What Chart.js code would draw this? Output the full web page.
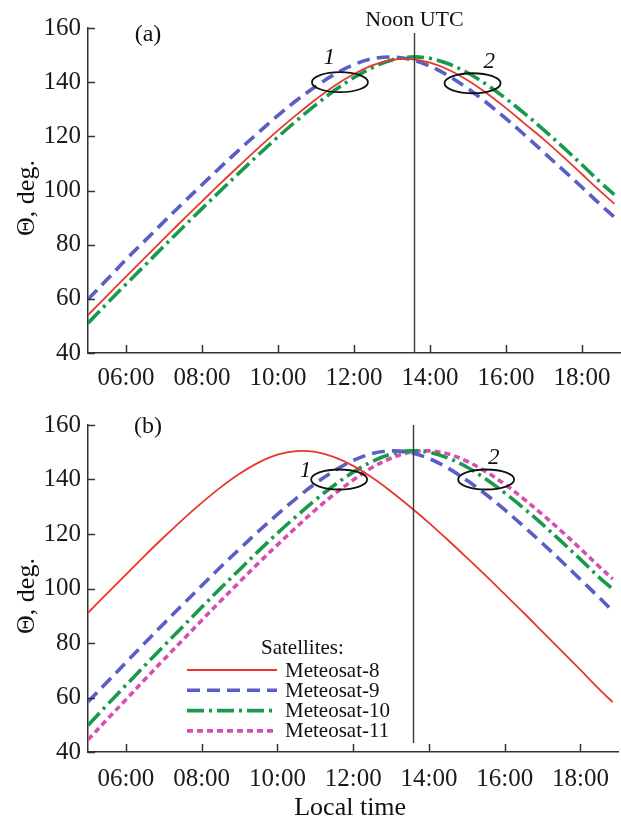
<!DOCTYPE html>
<html><head><meta charset="utf-8">
<script src="https://cdn.jsdelivr.net/npm/chart.js@4.4.1/dist/chart.umd.min.js"></script>
<style>
html,body{margin:0;padding:0;background:#fff;width:621px;height:825px;overflow:hidden}
.wrap{position:absolute;left:0;width:621px}
#w1{top:0;height:400px}
#w2{top:395px;height:430px}
canvas{display:block}
</style></head><body>
<div class="wrap" id="w1"><canvas id="c1" width="621" height="400"></canvas></div>
<div class="wrap" id="w2"><canvas id="c2" width="621" height="430"></canvas></div>
<script>
// ---- data ----
const times = [5,5.5,6,6.5,7,7.5,8,8.5,9,9.5,10,10.5,11,11.5,12,12.5,13,13.5,14,14.5,15,15.5,16,16.5,17,17.5,18,18.5,18.85];
const xTickValues = [6,8,10,12,14,16,18];
const xTickLabels = ['06:00','08:00','10:00','12:00','14:00','16:00','18:00'];
const yTickValues = [40,60,80,100,120,140,160];
const satellites = ['Meteosat-8','Meteosat-9','Meteosat-10','Meteosat-11'];
const noonUTC = 13.57;

// panel (a)
const a_m8  = [54.0,61.1,68.2,75.2,82.2,89.2,96.0,102.8,109.4,115.9,122.2,128.1,133.7,138.8,143.0,146.3,148.2,148.5,147.2,144.5,140.6,135.8,130.4,124.6,118.8,112.5,106.0,99.5,95.1];
const a_m9  = [59.8,67.1,74.5,81.5,88.5,95.4,102.1,108.8,115.3,121.6,127.7,133.4,138.5,143.0,146.5,148.7,149.3,148.3,145.9,142.2,137.6,132.3,126.5,120.4,114.0,107.6,101.2,94.6,90.2];
const a_m10 = [51.0,58.3,65.4,72.4,79.5,86.4,93.3,100.1,106.8,113.4,119.8,125.9,131.7,137.1,141.7,145.5,148.2,149.3,148.8,146.7,143.4,139.0,133.9,128.3,122.3,116.0,109.5,102.8,98.5];
// panel (b)
const b_m8  = [91.1,98.1,105.1,112.1,118.8,125.3,131.4,137.1,142.1,146.2,149.1,150.4,150.1,148.2,145.0,140.7,135.6,130.0,124.1,117.8,111.3,104.7,97.9,91.1,84.1,77.1,70.1,63.0,58.3];
const b_m9  = [58.4,65.6,72.8,80.0,87.1,94.1,101.0,107.9,114.5,121.0,127.2,133.1,138.5,143.2,147.0,149.5,150.5,149.9,147.7,144.2,139.7,134.6,128.9,122.8,116.5,110.0,103.3,96.6,91.7];
const b_m10 = [49.8,57.2,64.5,71.7,78.9,86.0,93.1,100.1,106.9,113.7,120.3,126.5,132.5,137.9,142.7,146.6,149.3,150.5,150.0,147.9,144.6,140.2,135.1,129.5,123.5,117.2,110.7,104.0,99.8];
const b_m11 = [44.5,51.9,59.2,66.6,73.9,81.1,88.3,95.4,102.4,109.3,116.0,122.5,128.8,134.6,139.8,144.4,147.8,150.0,150.5,149.4,146.7,142.9,138.3,132.9,127.1,121.0,114.6,108.0,103.5];

// ---- styles ----
const styles = [
  {color:'#e8382b', width:1.8, dash:[]},
  {color:'#5a5ec6', width:3.6, dash:[13,7]},
  {color:'#189a4c', width:3.6, dash:[17,5,3,5]},
  {color:'#d64fb0', width:3.6, dash:[6,4]}
];
const SERIF = '"Liberation Serif", "Times New Roman", serif';
Chart.defaults.font.family = SERIF;

function ds(i, vals){
  const s = styles[i];
  return {label:satellites[i], data:times.map((t,k)=>({x:t,y:vals[k]})),
    borderColor:s.color, borderWidth:s.width, borderDash:s.dash, borderCapStyle:'butt',
    pointRadius:0, fill:false, tension:0.35};
}

function line(ctx,x1,y1,x2,y2){ctx.beginPath();ctx.moveTo(x1,y1);ctx.lineTo(x2,y2);ctx.stroke();}

const decor = {
  id:'decor',
  afterDatasetsDraw(chart, args, o){
    const ctx = chart.ctx, xs = chart.scales.x, ys = chart.scales.y, ca = chart.chartArea;
    ctx.save();
    ctx.strokeStyle = '#333'; ctx.lineWidth = 1.5;
    xTickValues.forEach(v=>{const px = Math.round(xs.getPixelForValue(v))+0.5; line(ctx,px,ca.bottom,px,ca.bottom-8);});
    yTickValues.forEach(v=>{const py = Math.round(ys.getPixelForValue(v))+0.5; line(ctx,ca.left,py,ca.left+7,py);});
    // noon line
    const nx = Math.round(xs.getPixelForValue(noonUTC))+0.5;
    ctx.strokeStyle = '#3a3a3a'; ctx.lineWidth = 1.4;
    line(ctx,nx,o.noonTop,nx,o.noonBottom);
    // ellipses
    ctx.strokeStyle = '#111'; ctx.lineWidth = 1.8;
    o.ellipses.forEach(e=>{
      ctx.beginPath();
      ctx.ellipse(xs.getPixelForValue(e[0]), ys.getPixelForValue(e[1]), 28, 10, 0, 0, Math.PI*2);
      ctx.stroke();
    });
    ctx.fillStyle = '#111';
    ctx.font = 'italic 23px ' + SERIF;
    ctx.textAlign = 'center'; ctx.textBaseline = 'middle';
    o.marks.forEach(m=>{ ctx.fillText(m[2], xs.getPixelForValue(m[0]), ys.getPixelForValue(m[1])); });
    // panel letter
    ctx.font = '24px ' + SERIF;
    ctx.fillText(o.panel, 148, o.panelY);
    // noon text
    if (o.noonText){ ctx.font = '22px ' + SERIF; ctx.fillText('Noon UTC', nx, 20); }
    // y title
    ctx.save();
    ctx.translate(27, o.yTitleY); ctx.rotate(-Math.PI/2);
    ctx.font = '26px ' + SERIF; ctx.fillText('\u0398, deg.', 0, 0);
    ctx.restore();
    if (o.xTitle){ ctx.font = '26px ' + SERIF; ctx.fillText('Local time', (ca.left+ca.right)/2 - 3, o.xTitleY); }
    if (o.legend){
      ctx.textAlign = 'left';
      ctx.font = '21px ' + SERIF;
      ctx.fillText('Satellites:', 261, o.legendY);
      chart.data.datasets.forEach((d,i)=>{
        const yy = o.legendY + 22 + i*20.3;
        ctx.save();
        ctx.strokeStyle = d.borderColor; ctx.lineWidth = d.borderWidth; ctx.setLineDash(d.borderDash);
        line(ctx,187,yy,277,yy);
        ctx.restore();
        ctx.fillText(d.label, 285, yy+1);
      });
    }
    ctx.restore();
  }
};

function makeChart(id, datasets, o){
  return new Chart(document.getElementById(id), {
    type:'line',
    data:{datasets},
    options:{
      responsive:false, animation:false, devicePixelRatio:1,
      layout:{padding:{top:o.top, right:1, left:0, bottom:0}},
      plugins:{legend:{display:false}, tooltip:{enabled:false}, decor:o},
      scales:{
        x:{type:'linear', min:5, max:19,
          afterBuildTicks:s=>{s.ticks = xTickValues.map(v=>({value:v}));},
          ticks:{callback:v=>xTickLabels[xTickValues.indexOf(v)], font:{size:25}, color:'#1a1a1a', padding:o.xPad, maxRotation:0, autoSkip:false},
          grid:{display:false, drawTicks:false},
          border:{display:true, color:'#333', width:1.5},
          afterFit:s=>{s.height = o.xh;}},
        y:{type:'linear', min:40, max:160,
          afterBuildTicks:s=>{s.ticks = yTickValues.map(v=>({value:v}));},
          ticks:{font:{size:25}, color:'#1a1a1a', padding:7},
          grid:{display:false, drawTicks:false},
          border:{display:true, color:'#333', width:1.5},
          afterFit:s=>{s.width = 88;}}
      }
    },
    plugins:[decor]
  });
}

makeChart('c1', [ds(0,a_m8), ds(1,a_m9), ds(2,a_m10)], {
  top:28, xh:47, xPad:10, panel:'(a)', panelY:35, noonText:true, noonTop:33, noonBottom:353,
  ellipses:[[11.63,140],[15.12,139.6]], marks:[[11.35,149.1,'1'],[15.56,147.3,'2']],
  yTitleY:198, xTitle:false, legend:false
});
makeChart('c2', [ds(0,b_m8), ds(1,b_m9), ds(2,b_m10), ds(3,b_m11)], {
  top:30, xh:73, xPad:12, panel:'(b)', panelY:32, noonText:false, noonTop:30, noonBottom:348,
  ellipses:[[11.63,140],[15.51,140]], marks:[[10.74,143,'1'],[15.71,147.9,'2']],
  yTitleY:201, xTitle:true, xTitleY:413, legend:true, legendY:253
});
</script>
</body></html>
